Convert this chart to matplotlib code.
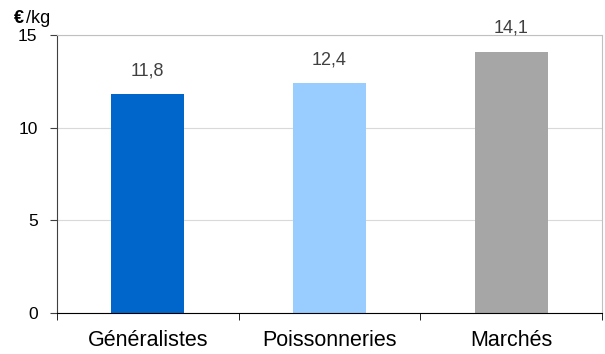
import matplotlib
matplotlib.use("Agg")
import matplotlib.pyplot as plt

plt.rcParams['font.family'] = ['Liberation Sans', 'DejaVu Sans']

categories = ['Généralistes', 'Poissonneries', 'Marchés']
values = [11.8, 12.4, 14.1]
labels = ['11,8', '12,4', '14,1']
colors = ['#0066CC', '#99CCFF', '#A6A6A6']
yticks = [0, 5, 10, 15]

fig = plt.figure(figsize=(6.05, 3.54), dpi=100)
ax = fig.add_axes([57/605, 1 - 313/354, (602-57)/605, (313-35)/354])

x = range(len(categories))
ax.bar(x, values, width=0.4, color=colors, zorder=2)
for xi, v, lab in zip(x, values, labels):
    ax.annotate(lab, xy=(xi, v), xytext=(0, 13.5), textcoords='offset points',
                ha='center', va='baseline', fontsize=13, color='#404040')

ax.set_xlim(-0.5, 2.5)
ax.set_ylim(0, 15)
ax.set_yticks(yticks)
ax.yaxis.grid(True, color='#D9D9D9', linewidth=0.8, zorder=0)
ax.set_axisbelow(True)
ax.tick_params(axis='y', labelsize=12.5, length=5, color='#404040', pad=9)
ax.set_xticks([0, 1, 2])
ax.set_xticklabels(categories, fontsize=15.5)
ax.set_xticks([-0.5, 0.5, 1.5, 2.5], minor=True)
ax.tick_params(axis='x', which='major', length=0, pad=12)
ax.tick_params(axis='x', which='minor', length=5, color='black')

ax.spines['top'].set_color('#C0C0C0')
ax.spines['right'].set_color('#C0C0C0')
ax.spines['left'].set_color('#404040')
ax.spines['bottom'].set_color('black')

fig.text(14/605, 1 - 23/354, '€', fontsize=13, fontweight='bold', va='baseline', ha='left')
fig.text(26/605, 1 - 23/354, '/kg', fontsize=13, va='baseline', ha='left')

fig.savefig('out.png', dpi=100)
